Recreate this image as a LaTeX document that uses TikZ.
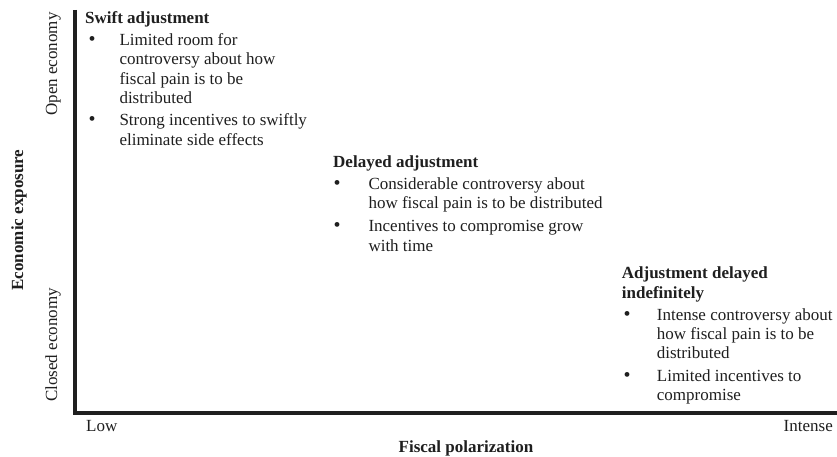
\documentclass[tikz,border=0pt]{standalone}
\usepackage{fontspec}
\setmainfont{Liberation Serif}
\begin{document}
\begin{tikzpicture}[x=1pt,y=-1pt,
  txt/.style={font=\fontsize{17}{19.3}\selectfont, inner sep=0pt, anchor=base west, text=black!88},
  hd/.style={font=\fontsize{17}{20}\selectfont\bfseries, inner sep=0pt, anchor=base west, text=black!88},
  bul/.style={font=\fontsize{20}{19.3}\selectfont, inner sep=0pt, anchor=base, text=black!88},
  axislbl/.style={font=\fontsize{17}{19.3}\selectfont, inner sep=0pt, text=black!88},
  axisline/.style={line width=4pt, draw=black!88}]
\useasboundingbox (0,0) rectangle (837,457);
\fill[white] (0,0) rectangle (837,457);
% axes
\coordinate (top) at (75,10);
\coordinate (origin) at (75,413);
\coordinate (right) at (837,413);
\draw[axisline] (top) -- (origin) -- (right);
% axis labels
\node[axislbl, anchor=base] (xlbl) at (466,452.5) {\bfseries Fiscal polarization};
\node[axislbl, anchor=base, rotate=90] (ylbl) at (23,220) {\bfseries Economic exposure};
\node[axislbl, anchor=base, rotate=90] (open) at (57,64) {Open economy};
\node[axislbl, anchor=base, rotate=90] (closed) at (57,345) {Closed economy};
\node[axislbl, anchor=base west] (low) at (86,431.7) {Low};
\node[axislbl, anchor=base east] (intense) at (833,431.7) {Intense};
% block 1
\node[hd] (t1) at (85,23.3) {Swift adjustment};
\node[bul] (b11) at (92,45.7) {•};
\node[txt] (i11) at (119.3,45.7) {\parbox[t]{220pt}{\raggedright Limited room for\\controversy about how\\fiscal pain is to be\\distributed}};
\node[bul] (b12) at (92,126) {•};
\node[txt] (i12) at (119.3,126) {\parbox[t]{220pt}{\raggedright Strong incentives to swiftly\\eliminate side effects}};
% block 2
\node[hd] (t2) at (333,167.3) {Delayed adjustment};
\node[bul] (b21) at (337,189.3) {•};
\node[txt] (i21) at (368.3,189.3) {\parbox[t]{260pt}{\raggedright Considerable controversy about\\how fiscal pain is to be distributed}};
\node[bul] (b22) at (337,231.7) {•};
\node[txt] (i22) at (368.3,231.7) {\parbox[t]{260pt}{\raggedright Incentives to compromise grow\\with time}};
% block 3
\node[hd] (t3) at (621.7,278) {\parbox[t]{200pt}{\raggedright Adjustment delayed\\indefinitely}};
\node[bul] (b31) at (627,320) {•};
\node[txt] (i31) at (656.7,320) {\parbox[t]{200pt}{\raggedright Intense controversy about\\how fiscal pain is to be\\distributed}};
\node[bul] (b32) at (627,381) {•};
\node[txt] (i32) at (656.7,381) {\parbox[t]{200pt}{\raggedright Limited incentives to\\compromise}};
\end{tikzpicture}
\end{document}
